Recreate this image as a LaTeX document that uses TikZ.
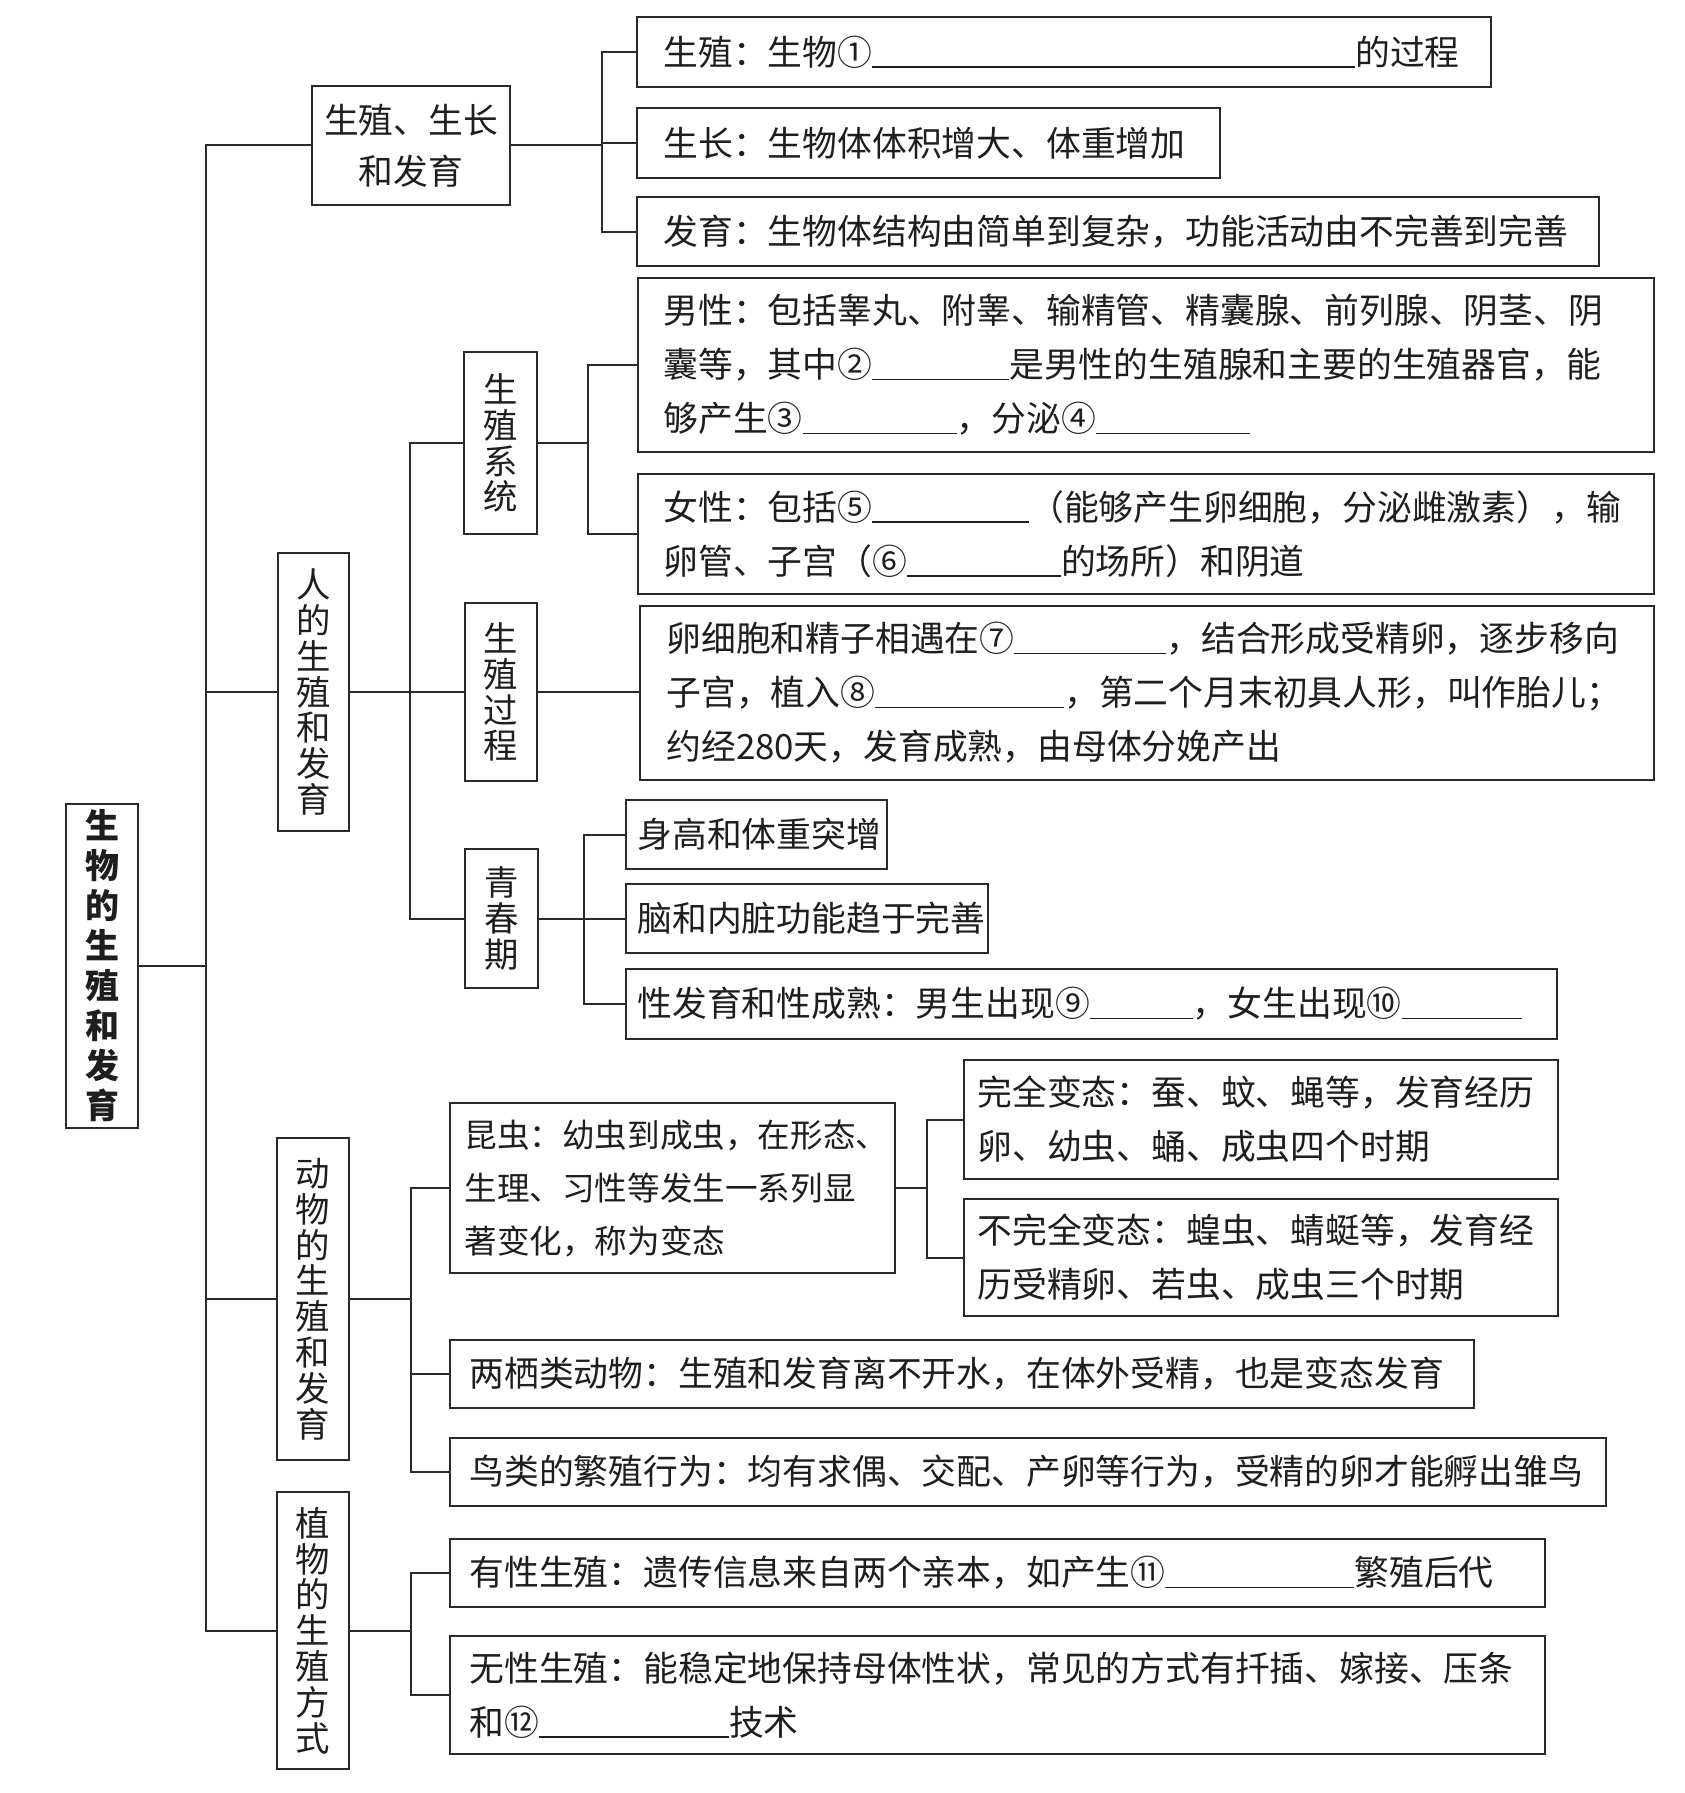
\documentclass[tikz,border=0pt]{standalone}
\usepackage{fontspec}
\setmainfont{Noto Sans CJK SC}
\definecolor{linec}{HTML}{2A2A2A}
\definecolor{textc}{HTML}{1E1E1E}
\newcommand\blank[1]{\rule[-1.2pt]{#1}{0.6pt}}
\newcommand\bbox[5]{\node[bx, minimum width={(#4-#2)*0.5pt}, minimum height={(#5-#3)*0.5pt}] (#1) at (#2,#3) {};}
\begin{document}
\begin{tikzpicture}[x=0.5pt,y=-0.5pt,
  bx/.style={draw=linec, line width=1pt, inner sep=0pt, outer sep=0pt, anchor=north west},
  txt/.style={anchor=west, align=left, inner sep=0pt, font=\fontsize{17.4pt}{27pt}\selectfont, text=textc},
  vtxt/.style={align=center, inner sep=0pt, font=\fontsize{17.2pt}{17.9pt}\selectfont, text=textc},
  link/.style={draw=linec, line width=1pt}]
\fill[white] (0,0) rectangle (1685,1793);
\useasboundingbox (0,0) rectangle (1685,1793);
% boxes
\bbox{R}{66}{804}{138}{1128}
\bbox{A1}{312}{86}{510}{205}
\bbox{A2}{278}{553}{349}{831}
\bbox{A3}{277}{1138}{349}{1460}
\bbox{A4}{277}{1492}{349}{1769}
\bbox{B1}{637}{17}{1491}{87}
\bbox{B2}{637}{108}{1220}{178}
\bbox{B3}{637}{197}{1599}{266}
\bbox{C1}{464}{352}{537}{534}
\bbox{C2}{465}{603}{537}{781}
\bbox{C3}{465}{849}{538}{988}
\bbox{D1}{638}{278}{1654}{452}
\bbox{D2}{638}{474}{1654}{594}
\bbox{D3}{640}{606}{1654}{780}
\bbox{E1}{626}{800}{887}{869}
\bbox{E2}{626}{884}{988}{953}
\bbox{E3}{626}{969}{1557}{1039}
\bbox{F1}{450}{1103}{895}{1273}
\bbox{F2}{450}{1340}{1474}{1408}
\bbox{F3}{450}{1438}{1606}{1506}
\bbox{G1}{964}{1060}{1558}{1179}
\bbox{G2}{964}{1199}{1558}{1316}
\bbox{H1}{450}{1539}{1545}{1607}
\bbox{H2}{450}{1636}{1545}{1754}
% texts
\node[vtxt, font=\fontsize{17pt}{20pt}\selectfont\bfseries] (tR) at (R) {生\\物\\的\\生\\殖\\和\\发\\育};
\node[vtxt, font=\fontsize{17.4pt}{25.5pt}\selectfont] (tA1) at (A1) {生殖、生长\\和发育};
\node[vtxt] (tA2) at (A2) {人\\的\\生\\殖\\和\\发\\育};
\node[vtxt] (tA3) at (A3) {动\\物\\的\\生\\殖\\和\\发\\育};
\node[vtxt] (tA4) at (A4) {植\\物\\的\\生\\殖\\方\\式};
\node[vtxt] (tC1) at (C1) {生\\殖\\系\\统};
\node[vtxt] (tC2) at (C2) {生\\殖\\过\\程};
\node[vtxt] (tC3) at (C3) {青\\春\\期};
\node[txt] (tB1) at ([xshift=13pt]B1.west) {生殖：生物①\blank{241.5pt}的过程};
\node[txt] (tB2) at ([xshift=13pt]B2.west) {生长：生物体体积增大、体重增加};
\node[txt] (tB3) at ([xshift=13pt]B3.west) {发育：生物体结构由简单到复杂，功能活动由不完善到完善};
\node[txt] (tD1) at ([xshift=12.5pt]D1.west) {男性：包括睾丸、附睾、输精管、精囊腺、前列腺、阴茎、阴\\囊等，其中②\blank{68.5pt}是男性的生殖腺和主要的生殖器官，能\\够产生③\blank{77pt}，分泌④\blank{77pt}};
\node[txt] (tD2) at ([xshift=12.5pt]D2.west) {女性：包括⑤\blank{78.5pt}（能够产生卵细胞，分泌雌激素），输\\卵管、子宫（⑥\blank{77pt}的场所）和阴道};
\node[txt] (tD3) at ([xshift=13pt]D3.west) {卵细胞和精子相遇在⑦\blank{76pt}，结合形成受精卵，逐步移向\\子宫，植入⑧\blank{94.5pt}，第二个月末初具人形，叫作胎儿；\\约经280天，发育成熟，由母体分娩产出};
\node[txt] (tE1) at ([xshift=5.5pt]E1.west) {身高和体重突增};
\node[txt] (tE2) at ([xshift=5.5pt]E2.west) {脑和内脏功能趋于完善};
\node[txt] (tE3) at ([xshift=5.5pt]E3.west) {性发育和性成熟：男生出现⑨\blank{51.5pt}，女生出现⑩\blank{60pt}};
\node[txt, font=\fontsize{16.3pt}{26.5pt}\selectfont] (tF1) at ([xshift=7pt]F1.west) {昆虫：幼虫到成虫，在形态、\\生理、习性等发生一系列显\\著变化，称为变态};
\node[txt] (tG1) at ([xshift=6.5pt]G1.west) {完全变态：蚕、蚊、蝇等，发育经历\\卵、幼虫、蛹、成虫四个时期};
\node[txt] (tG2) at ([xshift=6.5pt]G2.west) {不完全变态：蝗虫、蜻蜓等，发育经\\历受精卵、若虫、成虫三个时期};
\node[txt] (tF2) at ([xshift=9.5pt]F2.west) {两栖类动物：生殖和发育离不开水，在体外受精，也是变态发育};
\node[txt] (tF3) at ([xshift=9.5pt]F3.west) {鸟类的繁殖行为：均有求偶、交配、产卵等行为，受精的卵才能孵出雏鸟};
\node[txt] (tH1) at ([xshift=9.5pt]H1.west) {有性生殖：遗传信息来自两个亲本，如产生⑪\blank{94.5pt}繁殖后代};
\node[txt] (tH2) at ([xshift=9.5pt]H2.west) {无性生殖：能稳定地保持母体性状，常见的方式有扦插、嫁接、压条\\和⑫\blank{95pt}技术};
% bus coordinates
\coordinate (trunk) at (206,0);
\coordinate (busB) at (602,0);
\coordinate (busC) at (410,0);
\coordinate (busD) at (588,0);
\coordinate (busE) at (584,0);
\coordinate (busF) at (411,0);
\coordinate (busG) at (927,0);
\coordinate (busH) at (411,0);
% connectors
\draw[link] (R.east) -- (R.east -| trunk);
\draw[link] (A1.west) -- (A1.west -| trunk) -- (A4.west -| trunk) -- (A4.west);
\draw[link] (A2.west) -- (A2.west -| trunk);
\draw[link] (A3.west) -- (A3.west -| trunk);
\draw[link] (A1.east) -- (A1.east -| busB);
\draw[link] (B1.west) -- (B1.west -| busB) -- (B3.west -| busB) -- (B3.west);
\draw[link] (B2.west) -- (B2.west -| busB);
\draw[link] (A2.east) -- (C2.west);
\draw[link] (C1.west) -- (C1.west -| busC) -- (C3.west -| busC) -- (C3.west);
\draw[link] (C1.east) -- (C1.east -| busD);
\draw[link] (D1.west) -- (D1.west -| busD) -- (D2.west -| busD) -- (D2.west);
\draw[link] (C2.east) -- (C2.east -| D3.west);
\draw[link] (C3.east) -- (C3.east -| busE);
\draw[link] (E1.west) -- (E1.west -| busE) -- (E3.west -| busE) -- (E3.west);
\draw[link] (E2.west) -- (E2.west -| busE);
\draw[link] (A3.east) -- (A3.east -| busF);
\draw[link] (F1.west) -- (F1.west -| busF) -- (F3.west -| busF) -- (F3.west);
\draw[link] (F2.west) -- (F2.west -| busF);
\draw[link] (F1.east) -- (F1.east -| busG);
\draw[link] (G1.west) -- (G1.west -| busG) -- (G2.west -| busG) -- (G2.west);
\draw[link] (A4.east) -- (A4.east -| busH);
\draw[link] (H1.west) -- (H1.west -| busH) -- (H2.west -| busH) -- (H2.west);
\end{tikzpicture}
\end{document}
